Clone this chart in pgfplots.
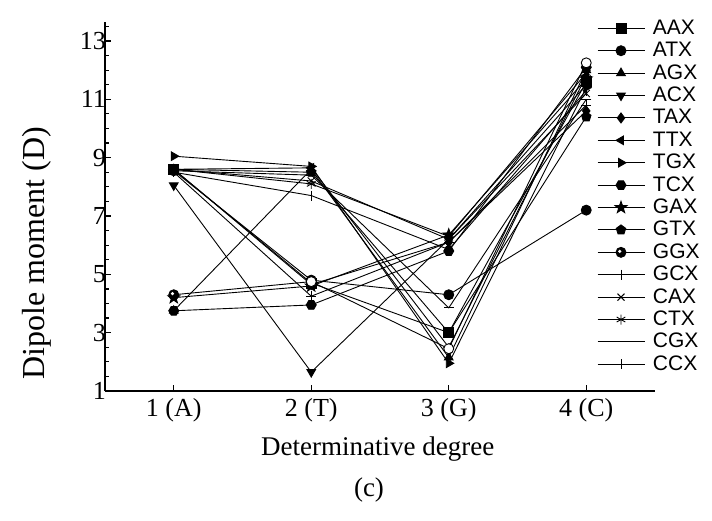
\documentclass[border=0pt]{standalone}
\usepackage{fontspec}
\setmainfont{Liberation Serif}
\newfontfamily\legfont{Liberation Sans}
\usepackage{pgfplots}
\pgfplotsset{compat=1.18}
\pgfdeclareplotmark{hexagon*}{%
  \pgfpathmoveto{\pgfpointpolar{0}{\pgfplotmarksize}}%
  \pgfpathlineto{\pgfpointpolar{60}{\pgfplotmarksize}}%
  \pgfpathlineto{\pgfpointpolar{120}{\pgfplotmarksize}}%
  \pgfpathlineto{\pgfpointpolar{180}{\pgfplotmarksize}}%
  \pgfpathlineto{\pgfpointpolar{240}{\pgfplotmarksize}}%
  \pgfpathlineto{\pgfpointpolar{300}{\pgfplotmarksize}}%
  \pgfpathclose
  \pgfusepathqfillstroke}
\pgfdeclareplotmark{fstar}{%
  \pgfpathmoveto{\pgfpointpolar{90}{1.25\pgfplotmarksize}}%
  \pgfpathlineto{\pgfpointpolar{126}{0.5\pgfplotmarksize}}%
  \pgfpathlineto{\pgfpointpolar{162}{1.25\pgfplotmarksize}}%
  \pgfpathlineto{\pgfpointpolar{198}{0.5\pgfplotmarksize}}%
  \pgfpathlineto{\pgfpointpolar{234}{1.25\pgfplotmarksize}}%
  \pgfpathlineto{\pgfpointpolar{270}{0.5\pgfplotmarksize}}%
  \pgfpathlineto{\pgfpointpolar{306}{1.25\pgfplotmarksize}}%
  \pgfpathlineto{\pgfpointpolar{342}{0.5\pgfplotmarksize}}%
  \pgfpathlineto{\pgfpointpolar{18}{1.25\pgfplotmarksize}}%
  \pgfpathlineto{\pgfpointpolar{54}{0.5\pgfplotmarksize}}%
  \pgfpathclose
  \pgfusepathqfillstroke}
\pgfdeclareplotmark{ball}{%
  \pgfpathcircle{\pgfpointorigin}{\pgfplotmarksize}%
  \pgfusepathqfillstroke
  \pgfsetfillcolor{white}%
  \pgfpathcircle{\pgfpoint{-0.25\pgfplotmarksize}{0.2\pgfplotmarksize}}{0.35\pgfplotmarksize}%
  \pgfusepathqfill}
\begin{document}
\begin{tikzpicture}
\useasboundingbox (-52.5pt,-64.5pt) rectangle (303.5pt,195.5pt);
\begin{axis}[
  scale only axis, width=275pt, height=184.5pt,
  at={(0,0)}, anchor=south west,
  xmin=0.5, xmax=4.5, ymin=1, ymax=13.65,
  axis lines*=left,
  axis line style={line width=0.8pt},
  xtick={1,2,3,4},
  xticklabels={1 (A),2 (T),3 (G),4 (C)},
  ytick={1,3,5,7,9,11,13},
  minor ytick={1.5,2,...,13.5},
  tick align=inside,
  major tick length=3pt, minor tick length=2pt,
  tick style={black, line width=0.6pt},
  /pgf/number format/assume math mode=true,
  tick label style={font=\fontsize{13}{13}\selectfont},
  yticklabel style={xshift=4pt},
  xlabel={Determinative degree},
  ylabel={Dipole moment (D)},
  xlabel style={font=\fontsize{13.5}{13.5}\selectfont, at={(rel axis cs:0.496,-0.158)}, anchor=center},
  ylabel style={font=\fontsize{16}{16}\selectfont, at={(rel axis cs:-0.0964,0.374)}, anchor=south, inner sep=0pt},
  every axis plot/.append style={black, line width=0.45pt, mark size=2.5pt, mark options={solid, fill=black}},
  legend style={draw=none, fill=none, at={(rel axis cs:0.883,1.030)}, anchor=north west,
    font=\legfont\fontsize{10.5}{10.5}\selectfont, row sep=-1.8pt, column sep=2pt,
    cells={anchor=west, inner sep=0pt, text height=7.5pt, text depth=0pt}},
  legend image code/.code={\draw[mark repeat=2, mark phase=2] plot coordinates {(0pt,0pt)(11.75pt,0pt)(23.5pt,0pt)};},
  clip=false,
]
\addplot[mark=square*] coordinates {(1,8.6)(2,4.7)(3,3.0)(4,11.6)};
\addlegendentry{AAX}
\addplot[mark=*] coordinates {(1,8.55)(2,4.8)(3,4.3)(4,7.2)};
\addlegendentry{ATX}
\addplot[mark=triangle*] coordinates {(1,3.75)(2,8.6)(3,2.15)(4,12.0)};
\addlegendentry{AGX}
\addplot[mark=triangle*, mark options={rotate=180}] coordinates {(1,8.05)(2,1.65)(3,6.2)(4,11.5)};
\addlegendentry{ACX}
\addplot[mark=diamond*] coordinates {(1,8.6)(2,4.65)(3,6.1)(4,10.6)};
\addlegendentry{TAX}
\addplot[mark=triangle*, mark options={rotate=90}] coordinates {(1,8.6)(2,8.65)(3,2.5)(4,11.8)};
\addlegendentry{TTX}
\addplot[mark=triangle*, mark options={rotate=-90}] coordinates {(1,9.05)(2,8.7)(3,1.95)(4,11.4)};
\addlegendentry{TGX}
\addplot[mark=hexagon*] coordinates {(1,3.75)(2,3.95)(3,5.8)(4,12.1)};
\addlegendentry{TCX}
\addplot[mark=fstar] coordinates {(1,4.2)(2,4.6)(3,6.35)(4,11.7)};
\addlegendentry{GAX}
\addplot[mark=pentagon*] coordinates {(1,8.6)(2,8.5)(3,3.0)(4,10.4)};
\addlegendentry{GTX}
\addplot[mark=ball] coordinates {(1,4.3)(2,4.75)(3,2.45)(4,12.25)};
\addlegendentry{GGX}
\addplot[mark=+] coordinates {(1,8.5)(2,4.25)(3,6.1)(4,10.8)};
\addlegendentry{GCX}
\addplot[mark=x] coordinates {(1,8.6)(2,8.2)(3,6.2)(4,11.2)};
\addlegendentry{CAX}
\addplot[mark=asterisk] coordinates {(1,8.6)(2,8.1)(3,6.3)(4,11.9)};
\addlegendentry{CTX}
\addplot[mark=-] coordinates {(1,8.55)(2,8.4)(3,3.85)(4,11.0)};
\addlegendentry{CGX}
\addplot[mark=|] coordinates {(1,8.5)(2,7.7)(3,5.85)(4,11.3)};
\addlegendentry{CCX}
\node[font=\fontsize{13.5}{13.5}\selectfont] at (rel axis cs:0.48,-0.268) {(c)};
\end{axis}
\end{tikzpicture}
\end{document}
